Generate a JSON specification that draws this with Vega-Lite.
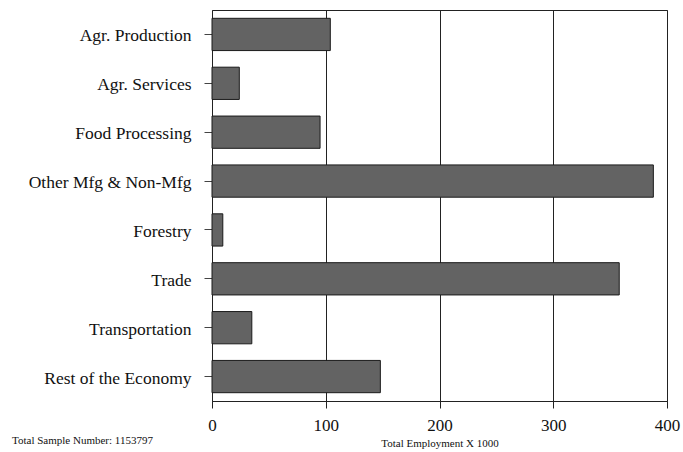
{
  "$schema": "https://vega.github.io/schema/vega-lite/v6.json",
  "width": 455,
  "height": 391,
  "autosize": "none",
  "padding": {"left": 212, "top": 10, "right": 16, "bottom": 51},
  "background": "white",
  "config": {
    "view": {"stroke": "#222", "strokeWidth": 1},
    "font": "Liberation Serif"
  },
  "title": {
    "text": "Total Sample Number: 1153797",
    "orient": "bottom",
    "anchor": "start",
    "frame": "group",
    "dx": -200,
    "offset": -13,
    "fontSize": 11,
    "fontWeight": "normal",
    "font": "Liberation Serif",
    "color": "#111"
  },
  "data": {
    "values": [
      {"sector": "Agr. Production", "employment": 104},
      {"sector": "Agr. Services", "employment": 24},
      {"sector": "Food Processing", "employment": 95},
      {"sector": "Other Mfg & Non-Mfg", "employment": 388},
      {"sector": "Forestry", "employment": 9.5},
      {"sector": "Trade", "employment": 358},
      {"sector": "Transportation", "employment": 35},
      {"sector": "Rest of the Economy", "employment": 148}
    ]
  },
  "mark": {"type": "bar", "fill": "#636363", "stroke": "#1a1a1a", "strokeWidth": 1},
  "encoding": {
    "y": {
      "field": "sector",
      "type": "nominal",
      "sort": null,
      "scale": {"paddingInner": 0.34, "paddingOuter": 0.17},
      "axis": {
        "title": null,
        "labelFontSize": 17.5,
        "labelPadding": 13,
        "labelOffset": 2,
        "tickSize": 8,
        "domain": false,
        "labelColor": "#111",
        "tickColor": "#444"
      }
    },
    "x": {
      "field": "employment",
      "type": "quantitative",
      "scale": {"domain": [0, 400], "nice": false},
      "axis": {
        "values": [0, 100, 200, 300, 400],
        "title": "Total Employment X 1000",
        "titleFontSize": 11,
        "titleFontWeight": "normal",
        "titleColor": "#111",
        "titlePadding": 4,
        "labelFontSize": 17,
        "labelColor": "#111",
        "labelPadding": 9,
        "labelFlush": false,
        "labelOverlap": false,
        "tickSize": 7,
        "tickColor": "#222",
        "gridColor": "#222",
        "gridOpacity": 1,
        "domainColor": "#222"
      }
    }
  }
}
